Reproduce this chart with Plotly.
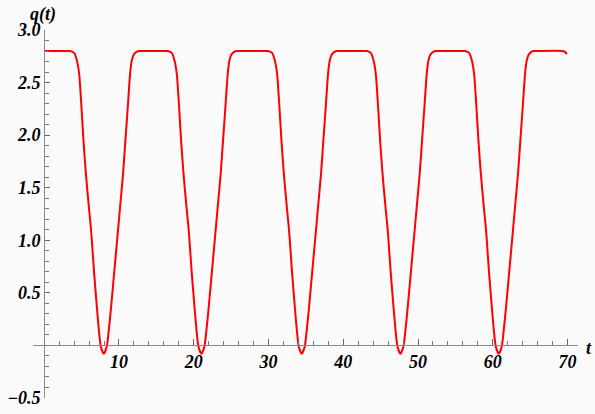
import plotly.graph_objects as go

# times of the minima of q(t)
t_min = [7.97, 21.03, 34.45, 47.65, 60.8]

# shape of one dip, as offsets from its minimum
dip_dt = [-5.0, -4.50, -3.97, -3.61, -3.30, -2.99, -2.72, -2.40, -2.00, -1.74, -1.60, -1.29,
          -0.93, -0.66, -0.40, 0.0, 0.40, 0.67, 0.98, 1.38, 1.78, 2.18, 2.58, 2.89, 3.21,
          3.52, 3.75, 4.05, 4.63, 5.1]
dip_q = [2.80, 2.80, 2.782, 2.713, 2.586, 2.27, 1.95, 1.636, 1.318, 1.128, 1.00, 0.685,
         0.368, 0.146, -0.01, -0.08, -0.01, 0.146, 0.368, 0.685, 1.00, 1.318, 1.636, 1.95, 2.27,
         2.586, 2.713, 2.77, 2.80, 2.80]

# start and end of the curve
t_start, q_start = [0.0], [2.80]
t_end = [69.3, 69.7, 69.9]
q_end = [2.80, 2.79, 2.77]

xtick_vals = [10, 20, 30, 40, 50, 60, 70]
ytick_vals = [-0.5, 0.5, 1.0, 1.5, 2.0, 2.5, 3.0]
ytick_text = ["−0.5", "0.5", "1.0", "1.5", "2.0", "2.5", "3.0"]

t = list(t_start)
q = list(q_start)
for tm in t_min:
    t += [tm + d for d in dip_dt]
    q += dip_q
t += t_end
q += q_end

font = dict(family="Liberation Serif", size=18, color="black", weight="bold", style="italic")

x_rng = [-1.5, 71.4]
y_rng = [-0.5, 3.0]


def px(x):
    return (x - x_rng[0]) / (x_rng[1] - x_rng[0])


def py(y):
    return (y - y_rng[0]) / (y_rng[1] - y_rng[0])


fig = go.Figure()
fig.add_trace(go.Scatter(x=t, y=q, mode="lines",
                         line=dict(color="red", width=2, shape="spline", smoothing=0.6),
                         hoverinfo="skip"))

fig.update_layout(
    width=595, height=414,
    margin=dict(l=33, r=17, t=30, b=16),
    paper_bgcolor="#fafafa", plot_bgcolor="#fafafa",
    showlegend=False,
    xaxis=dict(range=x_rng, anchor="free", position=py(0),
               showgrid=False, zeroline=False, showline=True, linecolor="#8a8a8a", linewidth=1,
               tickmode="array", tickvals=xtick_vals, ticks="inside", ticklen=6, tickcolor="#666",
               minor=dict(tickmode="linear", tick0=0, dtick=2, ticks="inside", ticklen=4, tickcolor="#777"),
               tickfont=font, automargin=False),
    yaxis=dict(range=y_rng, anchor="free", position=px(0),
               showgrid=False, zeroline=False, showline=True, linecolor="#8a8a8a", linewidth=1,
               tickmode="array", tickvals=ytick_vals, ticktext=ytick_text,
               ticks="inside", ticklen=5, tickcolor="#666",
               minor=dict(tickmode="linear", tick0=0, dtick=0.1, ticks="inside", ticklen=4, tickcolor="#777"),
               tickfont=font, automargin=False),
)

fig.add_annotation(xref="paper", yref="paper", x=px(-0.15), y=py(3.15),
                   xanchor="center", yanchor="middle",
                   text="q(t)", showarrow=False, font=font)
fig.add_annotation(xref="paper", yref="paper", x=px(72.9), y=py(-0.02),
                   xanchor="center", yanchor="middle",
                   text="t", showarrow=False, font=font)

fig.write_html("out.html", config={"displayModeBar": False},
               post_script="document.body.style.margin='0';")
